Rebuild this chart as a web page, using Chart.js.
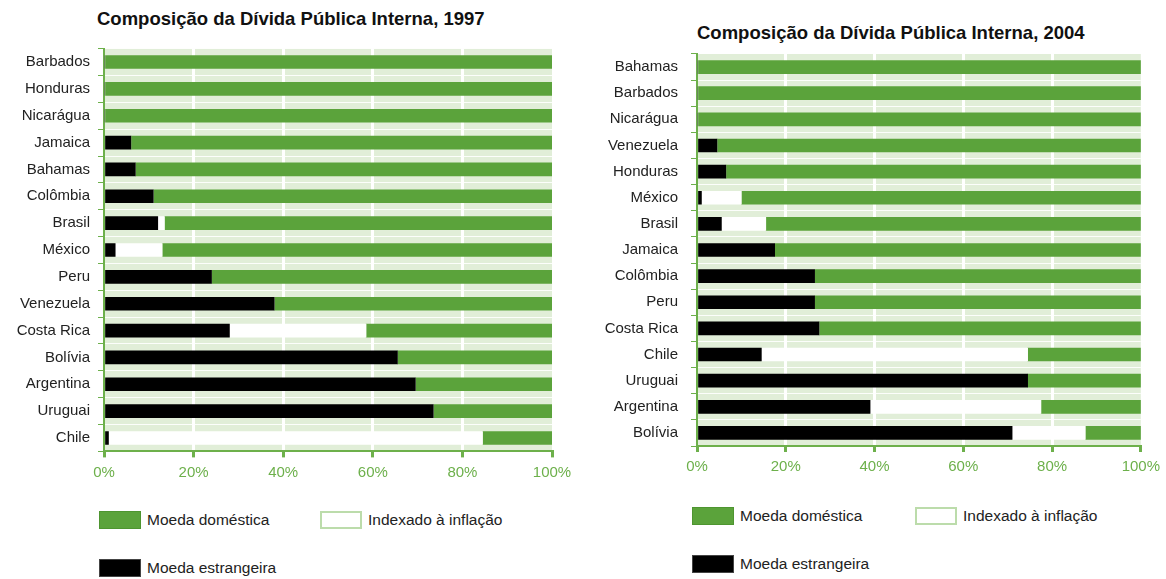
<!DOCTYPE html>
<html>
<head>
<meta charset="utf-8">
<script src="https://cdn.jsdelivr.net/npm/chart.js@4.4.1/dist/chart.umd.min.js"></script>
<style>
  body { margin: 0; width: 1166px; height: 579px; background: #fff; position: relative; overflow: hidden; font-family: "Liberation Sans", Arial, sans-serif; }
  .wrap { position: absolute; top: 0; height: 500px; }
  .title { position: absolute; font-weight: bold; font-size: 18.5px; color: #111; white-space: nowrap; }
  .leg { position: absolute; font-size: 15.5px; color: #222; display: flex; align-items: center; white-space: nowrap; }
  .sw { width: 42px; height: 18px; margin-right: 6px; box-sizing: border-box; }
  .green { background: #5ba33b; border: 1px solid #4e9530; }
  .white { background: #fff; border: 2px solid #bcdcab; }
  .black { background: #000; border: 1px solid #444; }
</style>
</head>
<body>

<div class="title" style="left:97px;top:8px">Composição da Dívida Pública Interna, 1997</div>
<div class="title" style="left:697px;top:22px">Composição da Dívida Pública Interna, 2004</div>

<div class="wrap" style="left:0;width:580px"><canvas id="chart1997"></canvas></div>
<div class="wrap" style="left:590px;width:576px"><canvas id="chart2004"></canvas></div>

<div class="leg" style="left:99px;top:511px"><div class="sw green"></div>Moeda doméstica</div>
<div class="leg" style="left:320px;top:511px"><div class="sw white"></div>Indexado à inflação</div>
<div class="leg" style="left:99px;top:559px"><div class="sw black"></div>Moeda estrangeira</div>

<div class="leg" style="left:692px;top:507px"><div class="sw green"></div>Moeda doméstica</div>
<div class="leg" style="left:915px;top:507px"><div class="sw white"></div>Indexado à inflação</div>
<div class="leg" style="left:692px;top:555px"><div class="sw black"></div>Moeda estrangeira</div>

<script>
// 1997
const countries1997 = ['Barbados','Honduras','Nicarágua','Jamaica','Bahamas','Colômbia','Brasil','México','Peru','Venezuela','Costa Rica','Bolívia','Argentina','Uruguai','Chile'];
const estrangeira1997 = [0, 0, 0, 6, 7, 11, 12, 2.5, 24, 38, 28, 65.5, 69.5, 73.5, 1];
const indexado1997    = [0, 0, 0, 0, 0, 0, 1.5, 10.5, 0, 0, 30.5, 0, 0, 0, 83.5];
const domestica1997   = [100, 100, 100, 94, 93, 89, 86.5, 87, 76, 62, 41.5, 34.5, 30.5, 26.5, 15.5];

// 2004
const countries2004 = ['Bahamas','Barbados','Nicarágua','Venezuela','Honduras','México','Brasil','Jamaica','Colômbia','Peru','Costa Rica','Chile','Uruguai','Argentina','Bolívia'];
const estrangeira2004 = [0, 0, 0, 4.5, 6.5, 1, 5.5, 17.5, 26.5, 26.5, 27.5, 14.5, 74.5, 39, 71];
const indexado2004    = [0, 0, 0, 0, 0, 9, 10, 0, 0, 0, 0, 60, 0, 38.5, 16.5];
const domestica2004   = [100, 100, 100, 95.5, 93.5, 90, 84.5, 82.5, 73.5, 73.5, 72.5, 25.5, 25.5, 22.5, 12.5];

const tickLabels = ['0%', '20%', '40%', '60%', '80%', '100%'];

const GREEN = '#5ba33b';
const AXIS = '#6db04b';
const BAND = '#e1eed8';

const plotBg = {
  id: 'plotBg',
  beforeDraw(chart) {
    const a = chart.chartArea;
    chart.ctx.save();
    chart.ctx.fillStyle = BAND;
    chart.ctx.fillRect(a.left, a.top, a.right - a.left, a.bottom - a.top);
    chart.ctx.restore();
  }
};

function makeChart(id, labels, est, idx, dom, yWidth, labelPad, pad) {
  return new Chart(document.getElementById(id), {
    type: 'bar',
    data: {
      labels: labels,
      datasets: [
        { label: 'Moeda estrangeira', data: est, backgroundColor: '#000' },
        { label: 'Indexado à inflação', data: idx, backgroundColor: '#fff' },
        { label: 'Moeda doméstica', data: dom, backgroundColor: GREEN }
      ]
    },
    options: {
      indexAxis: 'y',
      responsive: true,
      maintainAspectRatio: false,
      animation: false,
      datasets: { bar: { barThickness: 13, borderWidth: 0 } },
      layout: { padding: pad },
      plugins: { legend: { display: false }, tooltip: { enabled: false } },
      scales: {
        x: {
          stacked: true, min: 0, max: 100,
          afterFit: s => { s.height = 40; },
          grid: {
            color: c => (c.tick && (c.tick.value === 0 || c.tick.value === 100)) ? 'rgba(0,0,0,0)' : '#fff',
            lineWidth: 3, tickColor: AXIS, tickLength: 6
          },
          border: { color: AXIS, width: 2 },
          ticks: {
            stepSize: 20, color: AXIS, padding: 6,
            font: { family: 'Liberation Sans', size: 15 },
            callback: v => tickLabels[v / 20]
          }
        },
        y: {
          stacked: true,
          afterFit: s => { s.width = yWidth; },
          grid: { color: 'rgba(255,255,255,0.9)', lineWidth: 1, tickColor: AXIS, tickLength: 6 },
          border: { color: AXIS, width: 2 },
          ticks: { color: '#222', padding: labelPad, font: { family: 'Liberation Sans', size: 15 } }
        }
      }
    },
    plugins: [plotBg]
  });
}

makeChart('chart1997', countries1997, estrangeira1997, indexado1997, domestica1997, 104, 8,
  { left: 0, right: 28, top: 48.6, bottom: 8.6 });
makeChart('chart2004', countries2004, estrangeira2004, indexado2004, domestica2004, 107, 13,
  { left: 0, right: 18, top: 54, bottom: 14 });
</script>
</body>
</html>
